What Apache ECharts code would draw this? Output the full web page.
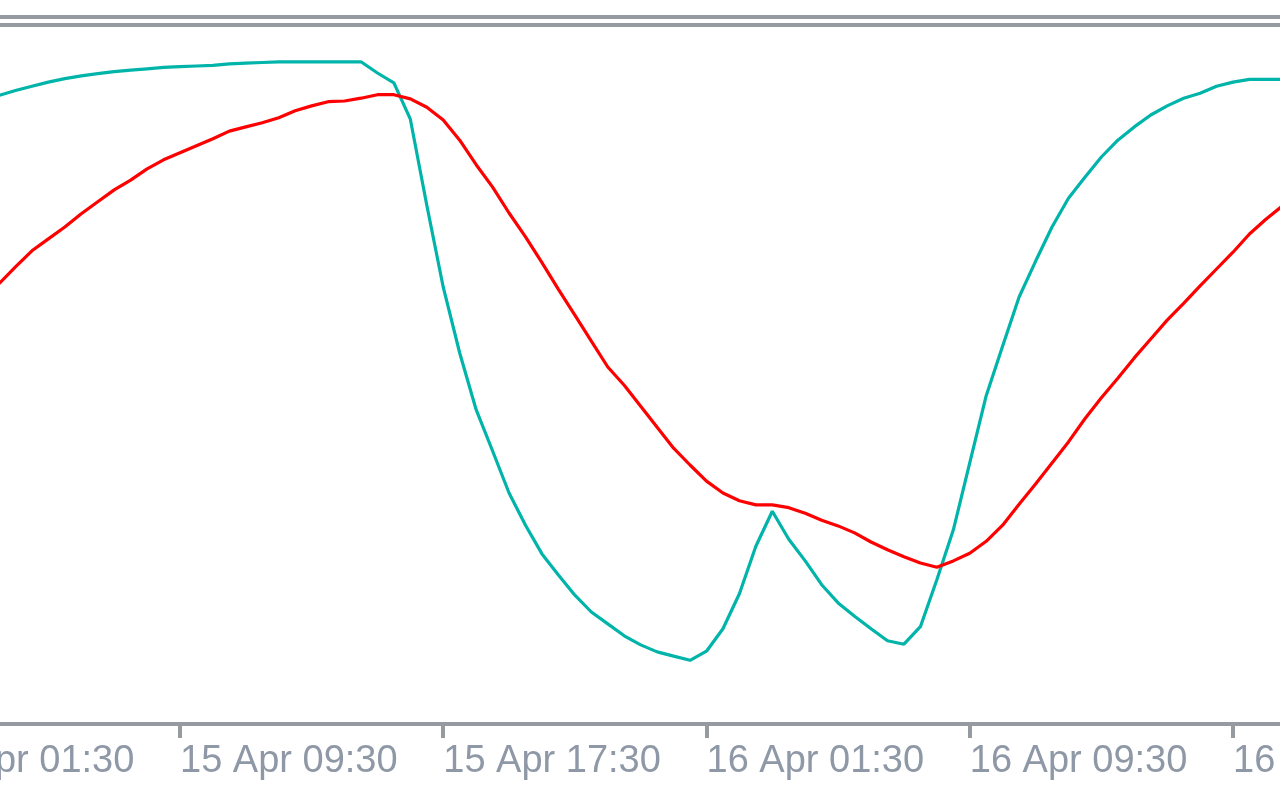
<!DOCTYPE html>
<html>
<head>
<meta charset="utf-8">
<script src="https://cdn.jsdelivr.net/npm/echarts@6/dist/echarts.min.js"></script>
<style>
html,body{margin:0;padding:0;background:#ffffff;}
#chart{width:1280px;height:800px;}
</style>
</head>
<body>
<div id="chart"></div>
<script>
// ---- data ----
// 30-minute bars; the first category is 15 Apr 01:30
const monthNames = ['Jan','Feb','Mar','Apr','May','Jun','Jul','Aug','Sep','Oct','Nov','Dec'];
const firstBar = { day: 15, month: 3, hour: 1, minute: 30 };
const barMinutes = 30;
const barCount = 84;
const labelEvery = 16; // a label every 8 hours (01:30, 09:30, 17:30)

// bars before the first visible value (scrolled off the left edge)
const hiddenLeadBars = 5;

// main line (teal), from 15 Apr 04:00 to 16 Apr 19:00
const mainLine = [
  89.8, 90.5, 91.1, 91.7, 92.2, 92.6, 92.9, 93.2, 93.4, 93.6, 93.8,
  93.9, 94.0, 94.1, 94.3, 94.4, 94.5, 94.6, 94.6, 94.6, 94.6, 94.6, 94.6,
  93.0, 91.6, 86.4, 74.1, 62.4, 53.0, 44.9, 39.0, 33.0, 28.4, 24.3, 21.3, 18.4, 16.0, 14.3, 12.6, 11.3, 10.3, 9.7, 9.1,
  10.4, 13.6, 18.6, 25.4, 30.4, 26.4, 23.3, 19.9, 17.3, 15.4, 13.6, 11.9, 11.4, 13.9, 20.6, 27.7, 37.3, 46.9,
  54.0, 61.0, 66.1, 71.0, 75.1, 78.1, 81.0, 83.4, 85.3, 87.0, 88.3, 89.4, 90.1, 91.1, 91.7, 92.1, 92.1, 92.1
];

// signal line (red)
const signalLine = [
  62.9, 65.3, 67.6, 69.3, 71.0, 72.9, 74.6, 76.3, 77.7, 79.3, 80.6,
  81.6, 82.6, 83.6, 84.7, 85.3, 85.9, 86.6, 87.6, 88.3, 88.9, 89.0, 89.4,
  89.9, 89.9, 89.3, 88.1, 86.3, 83.4, 79.9, 76.7, 73.0, 69.6, 65.9, 62.1, 58.4, 54.7, 51.0, 48.4, 45.4, 42.4, 39.4, 37.0,
  34.7, 33.0, 31.9, 31.3, 31.3, 30.9, 30.1, 29.1, 28.3, 27.3, 26.0, 24.9, 23.9, 23.0, 22.4, 23.3, 24.4, 26.1,
  28.4, 31.4, 34.3, 37.3, 40.3, 43.6, 46.6, 49.4, 52.3, 55.0, 57.7, 60.1, 62.6, 65.0, 67.4, 70.0, 72.1, 74.0
];

// ---- build categories ----
function pad2(n){ return (n < 10 ? '0' : '') + n; }
const categories = [];
const t0 = Date.UTC(2025, firstBar.month, firstBar.day, firstBar.hour, firstBar.minute);
for (let i = 0; i < barCount; i++) {
  const d = new Date(t0 + i * barMinutes * 60000);
  categories.push(d.getUTCDate() + ' ' + monthNames[d.getUTCMonth()] + ' ' +
    pad2(d.getUTCHours()) + ':' + pad2(d.getUTCMinutes()));
}
const lead = new Array(hiddenLeadBars).fill(null);
const mainData = lead.concat(mainLine);
const signalData = lead.concat(signalLine);
const isLabelBar = function (idx) { return idx % labelEvery === 0; };

// ---- chart ----
const chart = echarts.init(document.getElementById('chart'), null, {renderer: 'canvas'});
const gray = '#969aa1';
const barPx = 16.453;
chart.setOption({
  animation: false,
  backgroundColor: '#ffffff',
  grid: {
    left: 180 - labelEvery * barPx,
    width: (barCount - 1) * barPx,
    top: 24,
    height: 700,
    containLabel: false,
    outerBoundsMode: 'none'
  },
  xAxis: {
    type: 'category',
    boundaryGap: false,
    data: categories,
    axisLine: { lineStyle: { color: gray, width: 4 } },
    axisTick: { interval: isLabelBar, length: 14, lineStyle: { color: gray, width: 4 } },
    axisLabel: {
      interval: isLabelBar,
      align: 'left',
      margin: 19,
      color: '#8f98a6',
      fontFamily: 'Liberation Sans',
      fontSize: 38,
      hideOverlap: false
    },
    splitLine: { show: false }
  },
  yAxis: { type: 'value', min: 0, max: 100, show: false },
  graphic: [
    { type: 'rect', left: 0, top: 15, shape: { width: 1280, height: 4 }, style: { fill: gray }, silent: true },
    { type: 'rect', left: 0, top: 23, shape: { width: 1280, height: 4 }, style: { fill: gray }, silent: true }
  ],
  series: [
    {
      name: 'Main', type: 'line', data: mainData, symbol: 'none', showSymbol: false,
      lineStyle: { color: '#00b4aa', width: 3.2 }, connectNulls: false
    },
    {
      name: 'Signal', type: 'line', data: signalData, symbol: 'none', showSymbol: false,
      lineStyle: { color: '#ff0000', width: 3.2 }, connectNulls: false
    }
  ]
});
</script>
</body>
</html>
